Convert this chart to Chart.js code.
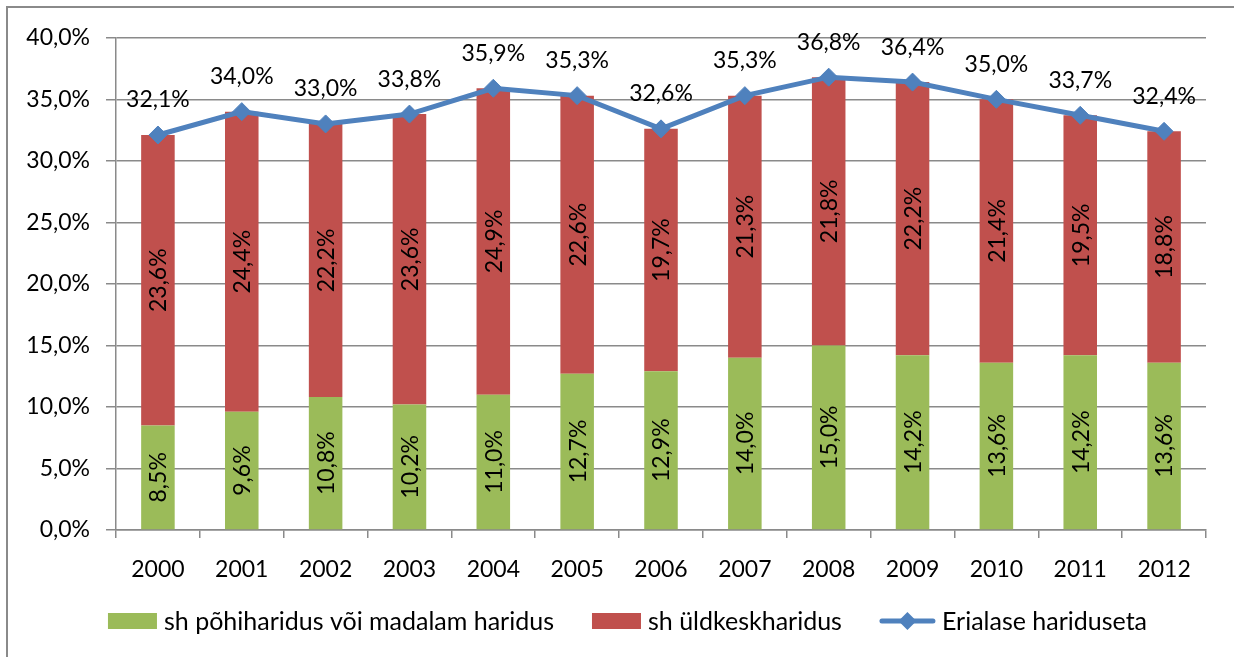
<!DOCTYPE html>
<html>
<head>
<meta charset="utf-8">
<script src="https://cdn.jsdelivr.net/npm/chart.js@4.4.1/dist/chart.umd.min.js"></script>
<style>
  html, body { margin: 0; padding: 0; background: #fff; overflow: hidden; }
  #frame { position: absolute; left: 6px; top: 6px; width: 1300px; height: 700px;
           border-top: 2px solid #8a8a8a; border-left: 2px solid #8a8a8a; }
  #c { position: absolute; left: 8px; top: 8px; }
</style>
</head>
<body>
<div id="frame"></div>
<canvas id="c" width="1226" height="649"></canvas>
<script>
const years = ['2000','2001','2002','2003','2004','2005','2006','2007','2008','2009','2010','2011','2012'];
const pohiharidus = [8.5, 9.6, 10.8, 10.2, 11.0, 12.7, 12.9, 14.0, 15.0, 14.2, 13.6, 14.2, 13.6];
const yldkesk = [23.6, 24.4, 22.2, 23.6, 24.9, 22.6, 19.7, 21.3, 21.8, 22.2, 21.4, 19.5, 18.8];
const erialaseta = [32.1, 34.0, 33.0, 33.8, 35.9, 35.3, 32.6, 35.3, 36.8, 36.4, 35.0, 33.7, 32.4];
const seriesNames = ['sh põhiharidus või madalam haridus', 'sh üldkeskharidus', 'Erialase hariduseta'];
const yTicks = [0, 5, 10, 15, 20, 25, 30, 35, 40];

const GREEN = '#9bbb59', RED = '#c0504d', BLUE = '#4f81bd', GRID = '#8a8a8a';
const FONT = "'Lato', 'Liberation Sans', sans-serif";
const fmt = v => v.toFixed(1).replace('.', ',') + '%';

const labelsPlugin = {
  id: 'labels',
  afterDatasetsDraw(chart) {
    const ctx = chart.ctx;
    ctx.save();
    ctx.fillStyle = '#000';
    ctx.font = '23px ' + FONT;
    ctx.textAlign = 'center';
    ctx.textBaseline = 'middle';
    chart.data.datasets.forEach((ds, i) => {
      const meta = chart.getDatasetMeta(i);
      meta.data.forEach((el, j) => {
        const txt = fmt(ds.data[j]);
        if (ds.type === 'line') {
          ctx.fillText(txt, el.x, el.y - 35);
        } else {
          const cy = (el.y + el.base) / 2;
          ctx.save();
          ctx.translate(el.x, cy);
          ctx.rotate(-Math.PI / 2);
          ctx.fillText(txt, 0, 1);
          ctx.restore();
        }
      });
    });
    ctx.restore();
  }
};

const legendPlugin = {
  id: 'customLegend',
  afterDraw(chart) {
    const ctx = chart.ctx;
    ctx.save();
    ctx.font = '25px ' + FONT;
    ctx.textBaseline = 'middle';
    ctx.textAlign = 'left';
    const cy = 613, centerX = 619.5, itemGap = 38, textGap = 7;
    const items = chart.data.datasets.map(ds => {
      const sym = ds.type === 'line' ? 55 : 49;
      return { ds, sym, tw: ctx.measureText(ds.label).width };
    });
    const total = items.reduce((s, it) => s + it.sym + textGap + it.tw, 0) + itemGap * (items.length - 1);
    let x = centerX - total / 2;
    items.forEach(it => {
      const ds = it.ds;
      if (ds.type === 'line') {
        ctx.strokeStyle = BLUE;
        ctx.lineWidth = 5;
        ctx.lineCap = 'round';
        ctx.beginPath();
        ctx.moveTo(x + 2, cy);
        ctx.lineTo(x + it.sym - 2, cy);
        ctx.stroke();
        ctx.fillStyle = BLUE;
        const mx = x + it.sym / 2, r = 9;
        ctx.beginPath();
        ctx.moveTo(mx, cy - r); ctx.lineTo(mx + r, cy); ctx.lineTo(mx, cy + r); ctx.lineTo(mx - r, cy);
        ctx.closePath();
        ctx.fill();
      } else {
        ctx.fillStyle = ds.backgroundColor;
        ctx.fillRect(x, cy - 8, it.sym, 16);
      }
      x += it.sym + textGap;
      ctx.fillStyle = '#000';
      ctx.fillText(ds.label, x, cy + 1);
      x += it.tw + itemGap;
    });
    ctx.restore();
  }
};

new Chart(document.getElementById('c'), {
  data: {
    labels: years,
    datasets: [
      { type: 'bar', label: seriesNames[0], data: pohiharidus, backgroundColor: GREEN, stack: 's', order: 2,
        categoryPercentage: 1, barPercentage: 0.4 },
      { type: 'bar', label: seriesNames[1], data: yldkesk, backgroundColor: RED, stack: 's', order: 2,
        categoryPercentage: 1, barPercentage: 0.4 },
      { type: 'line', label: seriesNames[2], data: erialaseta, borderColor: BLUE, backgroundColor: BLUE,
        borderWidth: 5, pointStyle: 'rectRot', pointRadius: 9, pointBorderWidth: 1, pointBackgroundColor: BLUE,
        pointBorderColor: BLUE, tension: 0, order: 0 }
    ]
  },
  options: {
    responsive: false,
    animation: false,
    layout: { padding: { top: 27, right: 28, left: 0, bottom: 0 } },
    plugins: { legend: { display: false }, tooltip: { enabled: false } },
    scales: {
      x: {
        stacked: true,
        offset: true,
        grid: { display: true, drawOnChartArea: false, drawTicks: true, tickLength: 8, offset: true, color: GRID, lineWidth: 1.5 },
        border: { display: true, color: GRID, width: 1.5 },
        ticks: { color: '#000', font: { family: FONT, size: 23 }, padding: 18, maxRotation: 0 },
        afterFit(scale) { scale.height = 127; }
      },
      y: {
        stacked: true,
        min: 0, max: 40,
        afterBuildTicks(scale) { scale.ticks = yTicks.map(v => ({ value: v })); },
        grid: { color: GRID, lineWidth: 1.5, tickLength: 10 },
        border: { display: true, color: GRID, width: 1.5 },
        ticks: { color: '#000', font: { family: FONT, size: 23 }, padding: 16, callback: v => fmt(v) },
        afterFit(scale) { scale.width = 108; }
      }
    }
  },
  plugins: [labelsPlugin, legendPlugin]
});
</script>
</body>
</html>
